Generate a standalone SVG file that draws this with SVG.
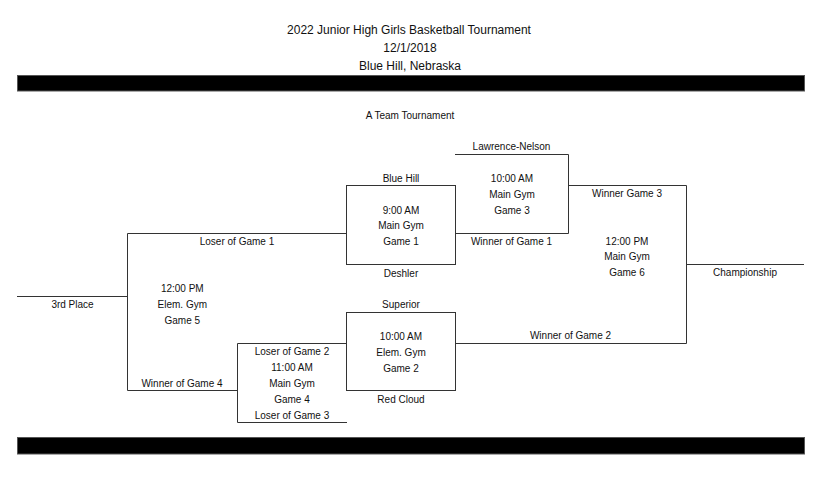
<svg xmlns="http://www.w3.org/2000/svg" width="826" height="480" viewBox="0 0 826 480">
<style>
text{font-family:"Liberation Sans",Arial,sans-serif;font-size:10px;fill:#111;text-anchor:middle}
.title{font-size:12px}
.bar{fill:#000;stroke:#555;stroke-width:1}
.ln{fill:none;stroke:#333;stroke-width:1}
</style>
<rect x="0" y="0" width="826" height="480" fill="#fff"/>
<g id="header">
<text class="title" x="409" y="34.3">2022 Junior High Girls Basketball Tournament</text>
<text class="title" x="410" y="52">12/1/2018</text>
<text class="title" x="410" y="70.3">Blue Hill, Nebraska</text>
<rect class="bar" x="17.5" y="75.5" width="787" height="15.5"/>
<text x="410" y="118.6">A Team Tournament</text>
<rect class="bar" x="17.5" y="437.5" width="787" height="16.5"/>
</g>
<g id="connectors" class="ln">
<path d="M17 296.5H127.5"/>
<path d="M127.5 233.5V390.5"/>
<path d="M127.5 233.5H347"/>
<path d="M127.5 390.5H237"/>
<path d="M455 233.5H568.5V154.5H455"/>
<path d="M568 185.5H686.5V343.5H455"/>
<path d="M686 264.5H804"/>
</g>
<g id="game1">
<rect class="ln" x="346.5" y="185.5" width="109" height="79"/>
<text x="401" y="182.3">Blue Hill</text>
<text x="401" y="213.6">9:00 AM</text>
<text x="401" y="229.3">Main Gym</text>
<text x="401" y="245">Game 1</text>
<text x="401" y="277">Deshler</text>
</g>
<g id="game2">
<rect class="ln" x="346.5" y="312.5" width="109" height="78"/>
<text x="401" y="307.5">Superior</text>
<text x="401" y="340">10:00 AM</text>
<text x="401" y="356">Elem. Gym</text>
<text x="401" y="372">Game 2</text>
<text x="401" y="402.6">Red Cloud</text>
</g>
<g id="game3">
<text x="511.5" y="150.3">Lawrence-Nelson</text>
<text x="512" y="182.3">10:00 AM</text>
<text x="512" y="197.6">Main Gym</text>
<text x="512" y="213.6">Game 3</text>
<text x="511.5" y="245">Winner of Game 1</text>
</g>
<g id="game4">
<path class="ln" d="M347 343.5H237.5V422.5H347"/>
<text x="292" y="355">Loser of Game 2</text>
<text x="292" y="371">11:00 AM</text>
<text x="292" y="387">Main Gym</text>
<text x="292" y="403">Game 4</text>
<text x="292" y="418.5">Loser of Game 3</text>
</g>
<g id="game5">
<text x="237" y="244.5">Loser of Game 1</text>
<text x="182.3" y="292">12:00 PM</text>
<text x="182.3" y="307.5">Elem. Gym</text>
<text x="182.3" y="323.5">Game 5</text>
<text x="182" y="387">Winner of Game 4</text>
<text x="72.5" y="307.5">3rd Place</text>
</g>
<g id="game6">
<text x="627" y="197.3">Winner Game 3</text>
<text x="627" y="244.6">12:00 PM</text>
<text x="627" y="260.3">Main Gym</text>
<text x="627" y="276">Game 6</text>
<text x="570.5" y="339.3">Winner of Game 2</text>
<text x="745" y="276">Championship</text>
</g>
</svg>
